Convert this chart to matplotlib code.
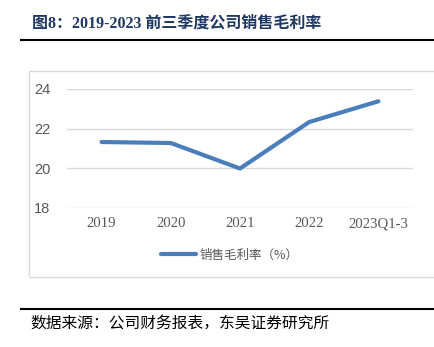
import matplotlib
matplotlib.use("Agg")
from matplotlib import pyplot as plt
from matplotlib.lines import Line2D
from matplotlib.patches import Rectangle

# %% Daten
years = ["2019", "2020", "2021", "2022", "2023Q1-3"]
gross_margin = [21.32, 21.27, 19.98, 22.33, 23.38]
yticks = [18, 20, 22, 24]

W, H = 434, 347
cjk = ["Noto Sans CJK SC", "DejaVu Sans"]
serif_cjk = ["Liberation Serif", "Noto Sans CJK SC"]
grey = "#595959"

fig = plt.figure(figsize=(W / 100, H / 100), dpi=100)

def fx(px):
    return px / W

def fy(py):
    return 1 - py / H

# Titel + Linien
fig.text(fx(32), fy(24), "图8：2019-2023 前三季度公司销售毛利率", family=serif_cjk,
         fontweight="bold", fontsize=11.5, color="#1F3864", va="center", ha="left")
fig.add_artist(Line2D([fx(21), 1], [fy(40), fy(40)], color="black", lw=1.5))
fig.add_artist(Line2D([fx(21), 1], [fy(309), fy(309)], color="black", lw=1.5))
fig.text(fx(30), fy(324), "数据来源：公司财务报表，东吴证券研究所", family=cjk,
         fontsize=11.3, color="black", va="center", ha="left")

# Rahmen um das Diagramm
fig.add_artist(Rectangle((fx(29), fy(277)), 1, fy(71) - fy(277), fill=False,
                         edgecolor="#D9D9D9", lw=1, transform=fig.transFigure))

# %% Plot
ax = fig.add_axes([fx(67), fy(207.7), fx(346), fy(89) - fy(207.7)])
x = range(len(years))
line, = ax.plot(x, gross_margin, color="#4A7EBB", lw=3, solid_capstyle="round",
                label="销售毛利率（%）")
ax.set_xlim(-0.5, len(years) - 0.5)
ax.set_ylim(18, 24)
ax.set_yticks(yticks)
ax.set_xticks(list(x))
ax.set_xticklabels(years, family="Liberation Serif", fontsize=10.6, color=grey)
ax.set_yticklabels([str(v) for v in yticks], family="Liberation Sans", fontsize=10.5, color=grey)
ax.tick_params(length=0, pad=12)
ax.tick_params(axis="x", pad=7)
ax.grid(axis="y", color="#D9D9D9", lw=1)
ax.set_axisbelow(True)
for s in ax.spines.values():
    s.set_visible(False)

leg = fig.legend(handles=[line], loc="center", bbox_to_anchor=(fx(230), fy(255)),
                 frameon=False, prop={"family": cjk, "size": 9},
                 handlelength=2.8, handletextpad=0.3)
for t in leg.get_texts():
    t.set_color(grey)

fig.savefig("out.png", dpi=100)
